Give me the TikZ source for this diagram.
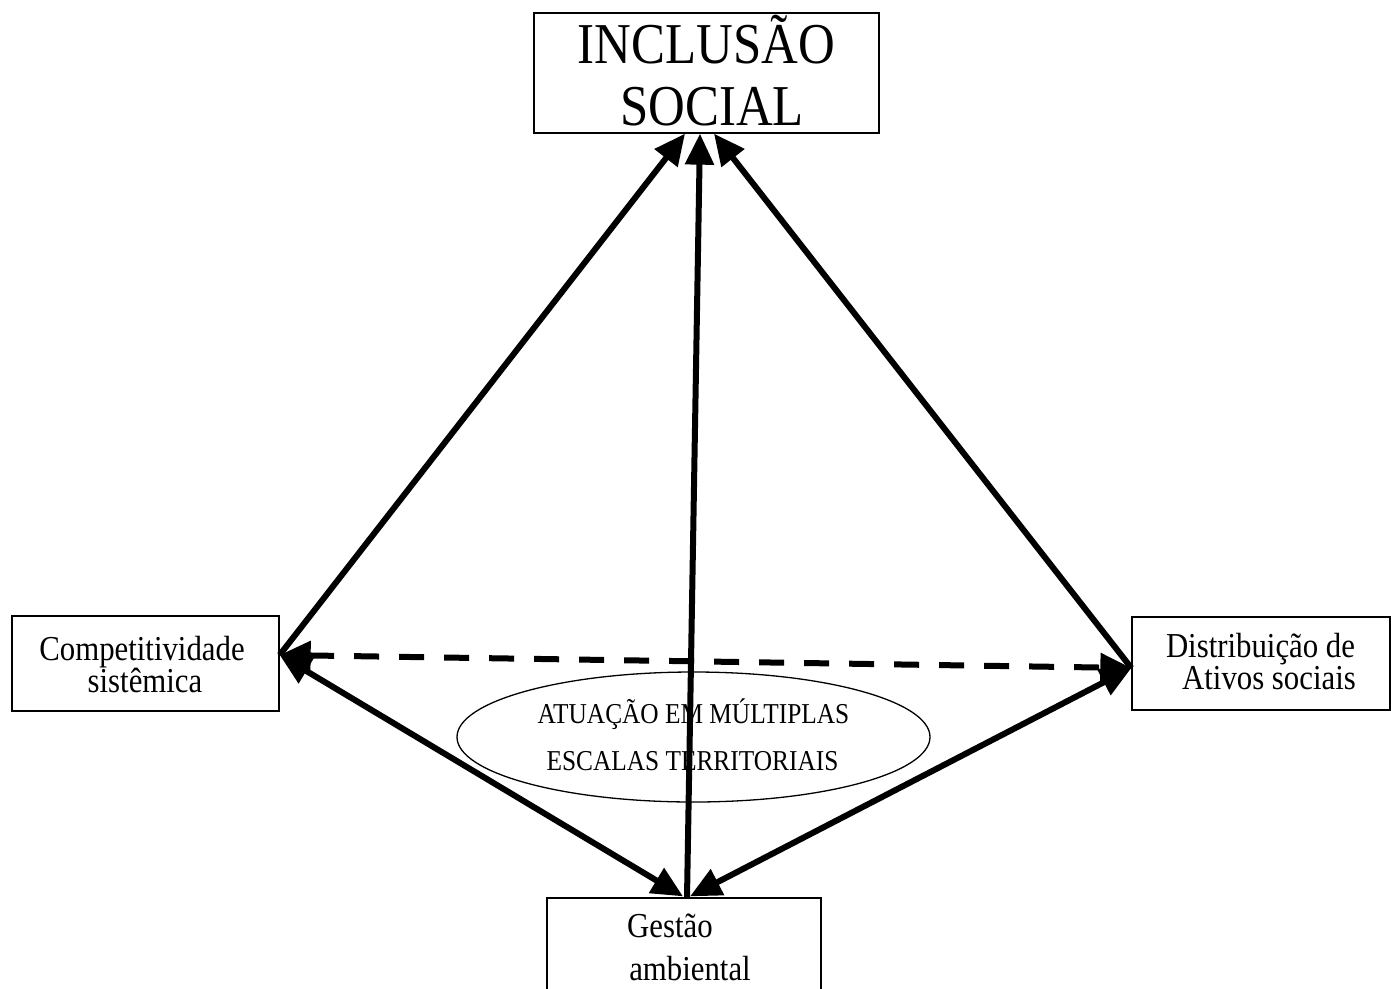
\documentclass[tikz,border=0pt]{standalone}
\usepackage{fontspec}
\setmainfont{Liberation Serif}[FakeStretch=0.88]
\usetikzlibrary{arrows.meta,shapes.geometric}
\tikzset{
  box/.style={draw, line width=1.3pt, inner sep=0pt},
  oval/.style={draw, ellipse, line width=1.3pt, inner sep=0pt},
  txtbig/.style={font=\fontsize{57.8}{62}\selectfont, inner sep=0pt, anchor=base},
  txt/.style={font=\fontsize{35}{32}\selectfont, inner sep=0pt, anchor=base},
  txtsmall/.style={font=\fontsize{28.8}{47}\selectfont, inner sep=0pt, anchor=base},
  link/.style={line width=6pt},
  conn/.style={link, -{Triangle[length=31pt,width=28pt]}},
  both/.style={link, {Triangle[length=31pt,width=28pt]}-{Triangle[length=31pt,width=28pt]}},
  dashboth/.style={both, dash pattern=on 25pt off 20pt}
}
\begin{document}
\begin{tikzpicture}[x=1pt,y=-1pt]
\path[use as bounding box] (0,0) rectangle (1391,988);
\clip (0,0) rectangle (1391,988);
\fill[white] (0,0) rectangle (1391,988);

% boxes
\node[box, minimum width=345pt, minimum height=120pt] (incl) at (706.5,73) {};
\node[box, minimum width=267pt, minimum height=95pt] (comp) at (145.5,663.5) {};
\node[box, minimum width=258pt, minimum height=93pt] (dist) at (1261,663.5) {};
\node[box, minimum width=274pt, minimum height=120pt] (gest) at (684,958) {};
\node[oval, minimum width=473pt, minimum height=130pt] (escal) at (693.5,737) {};

% texts
\node[txtbig] (inclA) at (706.5,63) {INCLUSÃO};
\node[txtbig] (inclB) at (712,125) {SOCIAL};
\node[txt] (compA) at (142,660) {Competitividade};
\node[txt] (compB) at (145,692) {sistêmica};
\node[txt] (distA) at (1260.5,657) {Distribuição de};
\node[txt] (distB) at (1269,689) {Ativos sociais};
\node[txt] (gestA) at (670,937) {Gestão};
\node[txt] (gestB) at (690,980) {ambiental};
\node[txtsmall] (escA) at (693.5,723) {ATUAÇÃO EM MÚLTIPLAS};
\node[txtsmall] (escB) at (692.5,770) {ESCALAS TERRITORIAIS};

% connectors
\draw[conn] ([yshift=8.5pt]comp.east) -- ([xshift=-21.5pt]incl.south);
\draw[conn] ([xshift=3pt]gest.north) -- ([xshift=-6.5pt]incl.south);
\draw[conn] ([yshift=-4.5pt]dist.west) -- ([xshift=7.5pt]incl.south);
\draw[both] ([yshift=8.5pt]comp.east) -- ([xshift=-1pt,yshift=1pt]gest.north);
\draw[both] ([yshift=-4.5pt]dist.west) -- ([xshift=6pt,yshift=1pt]gest.north);
\draw[dashboth] ([yshift=8.5pt]comp.east) -- ([yshift=-4.5pt]dist.west);
\end{tikzpicture}
\end{document}
